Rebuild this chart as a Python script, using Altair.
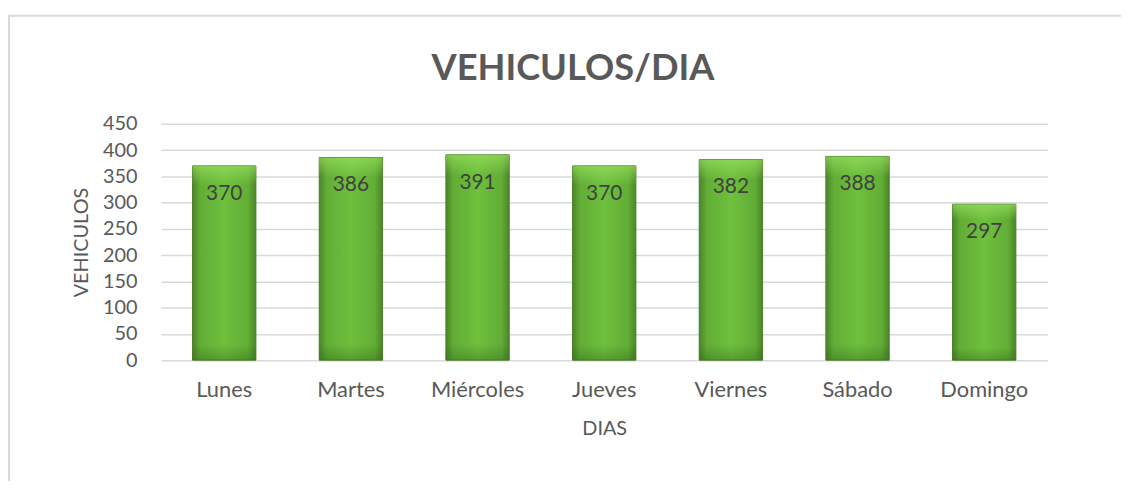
import altair as alt
import pandas as pd

dias = ["Lunes", "Martes", "Miércoles", "Jueves", "Viernes", "Sábado", "Domingo"]
vehiculos = [370, 386, 391, 370, 382, 388, 297]
titulo = ["VEHICULOS/DIA"]

df = pd.DataFrame({"DIAS": dias, "VEHICULOS": vehiculos})
df_title = pd.DataFrame({"t": titulo})

FONT = "Lato"
GRAY = "#595959"

x_enc = alt.X(
    "DIAS:N",
    sort=dias,
    scale=alt.Scale(paddingInner=0.5, paddingOuter=0.25),
    axis=alt.Axis(
        title="DIAS",
        labelAngle=0,
        labelFont=FONT,
        labelFontSize=22,
        labelColor=GRAY,
        labelPadding=20,
        ticks=False,
        tickSize=0,
        domain=False,
        grid=False,
        titleFont=FONT,
        titleFontSize=20,
        titleFontWeight="normal",
        titleColor=GRAY,
        titleY=69,
        titleBaseline="middle",
    ),
)

y_enc = alt.Y(
    "VEHICULOS:Q",
    scale=alt.Scale(domain=[0, 450], nice=False),
    axis=alt.Axis(
        title="VEHICULOS",
        values=list(range(0, 451, 50)),
        labelOverlap=False,
        labelFont=FONT,
        labelFontSize=20,
        labelColor=GRAY,
        labelPadding=24,
        ticks=False,
        tickSize=0,
        domain=False,
        grid=True,
        gridColor="#d9d9d9",
        gridWidth=1.5,
        titleFont=FONT,
        titleFontSize=20,
        titleFontWeight="normal",
        titleColor=GRAY,
        titleAngle=270,
        titleX=-80,
        titleY=119,
        titleAlign="center",
        titleBaseline="middle",
    ),
)

bar_fill = alt.Gradient(
    gradient="linear",
    x1=0, x2=1, y1=0, y2=0,
    stops=[
        alt.GradientStop(color="#4a8628", offset=0),
        alt.GradientStop(color="#62ad36", offset=0.12),
        alt.GradientStop(color="#6ec03d", offset=0.5),
        alt.GradientStop(color="#62ad36", offset=0.88),
        alt.GradientStop(color="#4a8628", offset=1),
    ],
)

bars = alt.Chart(df).mark_bar(
    fill=bar_fill, stroke="#4b7d2a", strokeWidth=1
).encode(x=x_enc, y=y_enc)

shine = alt.Chart(df).mark_bar(
    fill=alt.Gradient(
        gradient="linear",
        x1=0, x2=0, y1=0, y2=1,
        stops=[
            alt.GradientStop(color="rgba(160,230,100,0.6)", offset=0),
            alt.GradientStop(color="rgba(160,230,100,0.0)", offset=0.1),
            alt.GradientStop(color="rgba(40,90,20,0.0)", offset=0.92),
            alt.GradientStop(color="rgba(40,90,20,0.35)", offset=1),
        ],
    ),
    strokeWidth=0,
).encode(x=x_enc, y=y_enc)

labels = alt.Chart(df).mark_text(
    font=FONT, fontSize=21, color="#404040", baseline="middle", dy=28
).encode(x=x_enc, y=y_enc, text="VEHICULOS:Q")

title = alt.Chart(df_title).mark_text(
    font=FONT, fontSize=36.5, fontWeight="bold", color=GRAY,
    align="center", baseline="alphabetic",
).encode(text="t:N", x=alt.value(415), y=alt.value(-44))

frame_left = alt.Chart(df_title).mark_rule(color="#d9d9d9", strokeWidth=2).encode(
    x=alt.value(-153), y=alt.value(-109), y2=alt.value(400)
)
frame_top = alt.Chart(df_title).mark_rule(color="#d9d9d9", strokeWidth=2).encode(
    x=alt.value(-154), x2=alt.value(1000), y=alt.value(-109)
)

chart = (
    alt.layer(frame_left, frame_top, bars, shine, labels, title)
    .properties(
        width=893,
        height=238,
        autosize=alt.AutoSizeParams(type="none"),
        padding={"left": 154, "top": 115, "right": 74, "bottom": 120},
        view=alt.ViewBackground(strokeWidth=0, strokeOpacity=0),
    )
    .configure_view(strokeWidth=0, strokeOpacity=0)
    .configure(background="white")
)

chart.save("out.html", embed_options={"renderer": "svg", "actions": False})
